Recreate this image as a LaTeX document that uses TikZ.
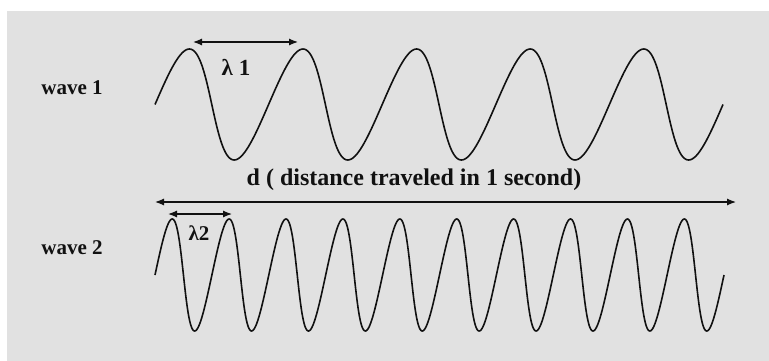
\documentclass[tikz,border=0pt]{standalone}
\usepackage{fontspec}
\setmainfont{Liberation Serif}
\usepackage{tikz}
\usetikzlibrary{arrows.meta, positioning}
\definecolor{wvBack}{HTML}{E1E1E1}
\definecolor{wvInk}{HTML}{111111}

\begin{document}
\begin{tikzpicture}[
  x=1pt, y=-1pt,
  wave/.style={draw=wvInk, line width=1.6pt, line join=round},
  span/.style={{Latex[length=9pt,width=7pt]}-{Latex[length=9pt,width=7pt]}, line width=1.2pt, wvInk},
  lbl/.style={font=\fontsize{#1}{#1}\selectfont\bfseries, text=wvInk, inner sep=0pt}
]
  \useasboundingbox (0,0) rectangle (769,361);
  \fill[wvBack] (7,11) rectangle (769,361);

  % the two waves
  \draw[wave] plot[domain=0:1800, samples=401, variable=\t]
    ({155+\t/360*113.6+6*sin(\t)}, {104.5-55.5*sin(\t)});
  \draw[wave] plot[domain=0:3600, samples=801, variable=\t]
    ({155+\t/360*56.9+3*sin(\t)}, {275-56*sin(\t)});

  \node[lbl=21] (w1) at (72,88) {wave 1};
  \node[lbl=21] (w2) at (72,248) {wave 2};

  % wavelengths
  \coordinate (l1a) at (193,42);
  \coordinate (l1b) at (298,42);
  \draw[span] (l1a) -- (l1b);
  \node[lbl=23] (lam1) at (236,67) {λ 1};

  \coordinate (l2a) at (168,214);
  \coordinate (l2b) at (232,214);
  \draw[span] (l2a) -- (l2b);
  \node[lbl=21] (lam2) at (199,233) {λ2};

  % distance
  \coordinate (da) at (155,202);
  \coordinate (db) at (736,202);
  \draw[span] (da) -- (db);
  \node[lbl=24] (dist) at (414,180) {d ( distance traveled in 1 second)};
\end{tikzpicture}
\end{document}
